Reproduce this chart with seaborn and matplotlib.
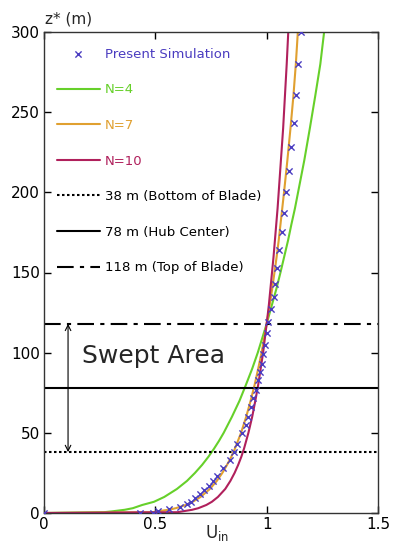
import numpy as np
import pandas as pd
import matplotlib
matplotlib.use("Agg")
import matplotlib.pyplot as plt
import seaborn as sns

sns.set_style("ticks")
plt.rcParams['font.family'] = ['DejaVu Sans']

# power-law inflow profiles
z_mod = [0, 0.5, 1, 2, 3, 5, 7, 10, 15, 20, 25, 30, 35, 40, 45, 50, 60, 70,
         80, 90, 100, 118, 130, 140, 150, 160, 170, 180, 190, 200, 220, 240,
         260, 280, 300]
u_n4 = [0, 0.27, 0.304, 0.362, 0.399, 0.441, 0.494, 0.540, 0.597, 0.642,
        0.678, 0.710, 0.738, 0.763, 0.786, 0.807, 0.844, 0.878, 0.907, 0.935,
        0.960, 1.0, 1.024, 1.044, 1.062, 1.079, 1.096, 1.111, 1.127, 1.141,
        1.169, 1.194, 1.218, 1.241, 1.258]
u_n7 = [0, 0.49, 0.506, 0.559, 0.592, 0.637, 0.668, 0.703, 0.745, 0.776,
        0.801, 0.822, 0.841, 0.857, 0.871, 0.885, 0.908, 0.928, 0.946, 0.962,
        0.977, 1.0, 1.014, 1.025, 1.035, 1.045, 1.054, 1.062, 1.070, 1.078,
        1.093, 1.107, 1.120, 1.131, 1.140]
u_n10 = [0, 0.60, 0.621, 0.665, 0.693, 0.729, 0.754, 0.781, 0.814, 0.837,
         0.856, 0.872, 0.886, 0.898, 0.908, 0.918, 0.935, 0.949, 0.962, 0.973,
         0.984, 1.0, 1.010, 1.017, 1.024, 1.031, 1.037, 1.043, 1.049, 1.054,
         1.064, 1.074, 1.082, 1.090, 1.097]

# present simulation samples
z_sim = [0, 0, 0, 1.5, 2.5, 4, 5.5, 7, 9.5, 12, 14.5, 17, 20, 23, 28, 33, 38,
         43, 50, 55, 60, 66, 72, 77, 83, 88, 93, 99, 105, 112, 119, 127, 135,
         143, 153, 164, 175, 187, 200, 213, 228, 243, 261, 280, 300]
u_sim = [0, 0.43, 0.49, 0.51, 0.56, 0.61, 0.64, 0.66, 0.68, 0.70, 0.72, 0.74,
         0.757, 0.775, 0.805, 0.835, 0.855, 0.868, 0.888, 0.907, 0.917, 0.928,
         0.940, 0.952, 0.962, 0.970, 0.977, 0.982, 0.992, 1.0, 1.007, 1.018,
         1.031, 1.037, 1.045, 1.057, 1.069, 1.079, 1.088, 1.099, 1.11, 1.121,
         1.131, 1.142, 1.153]

blade_z = [38, 78, 118]
blade_labels = ['38 m (Bottom of Blade)', '78 m (Hub Center)', '118 m (Top of Blade)']
blade_styles = [(0, (1.2, 1.2)), '-', (0, (8, 3, 2, 3))]

c_sim = '#4a3cc0'
c_n4 = '#66d02a'
c_n7 = '#e0a030'
c_n10 = '#b0205c'

fig = plt.figure(figsize=(3.98, 5.5), dpi=100)
ax = fig.add_axes([44/398, 1-513/550, 334/398, 481/550])

sns.scatterplot(x=u_sim, y=z_sim, marker='x', color=c_sim, s=20, linewidth=1.0,
                ax=ax, label='Present Simulation', zorder=5)
sns.lineplot(x=u_n4, y=z_mod, sort=False, color=c_n4, lw=1.5, ax=ax, label='N=4')
sns.lineplot(x=u_n7, y=z_mod, sort=False, color=c_n7, lw=1.5, ax=ax, label='N=7')
sns.lineplot(x=u_n10, y=z_mod, sort=False, color=c_n10, lw=1.5, ax=ax, label='N=10')

for zz, lab, ls in zip(blade_z, blade_labels, blade_styles):
    ax.axhline(zz, color='black', ls=ls, lw=1.5, label=lab)

ax.annotate('', xy=(0.108, 118), xytext=(0.108, 38),
            arrowprops=dict(arrowstyle='<->', lw=0.8, color='black',
                            shrinkA=0, shrinkB=0))
ax.text(0.17, 98, 'Swept Area', fontsize=18, va='center', ha='left')

ax.set_xlim(0, 1.5)
ax.set_ylim(0, 300)
ax.set_xticks([0, 0.5, 1, 1.5])
ax.set_xticklabels(['0', '0.5', '1', '1.5'])
ax.set_yticks(range(0, 301, 50))
ax.tick_params(direction='in', top=True, right=True, length=5, width=1,
               labelsize=11, pad=3, colors='black')
for sp in ax.spines.values():
    sp.set_linewidth(1.0)
    sp.set_color('#333333')

fig.text(45/398, 1-19/550, 'z* (m)', fontsize=11, va='center', ha='left')
fig.text(205/398, 1-533/550, r'$\mathrm{U_{in}}$', fontsize=12, va='center', ha='left')

leg = ax.legend(loc='upper left', bbox_to_anchor=(0.024, 0.978), frameon=False,
                fontsize=9.5, handlelength=3.2, handletextpad=0.4,
                labelspacing=1.71, borderaxespad=0, borderpad=0.4)
txt_colors = [c_sim, c_n4, c_n7, c_n10, 'black', 'black', 'black']
for t, c in zip(leg.get_texts(), txt_colors):
    t.set_color(c)

fig.savefig('out.png', dpi=100)
